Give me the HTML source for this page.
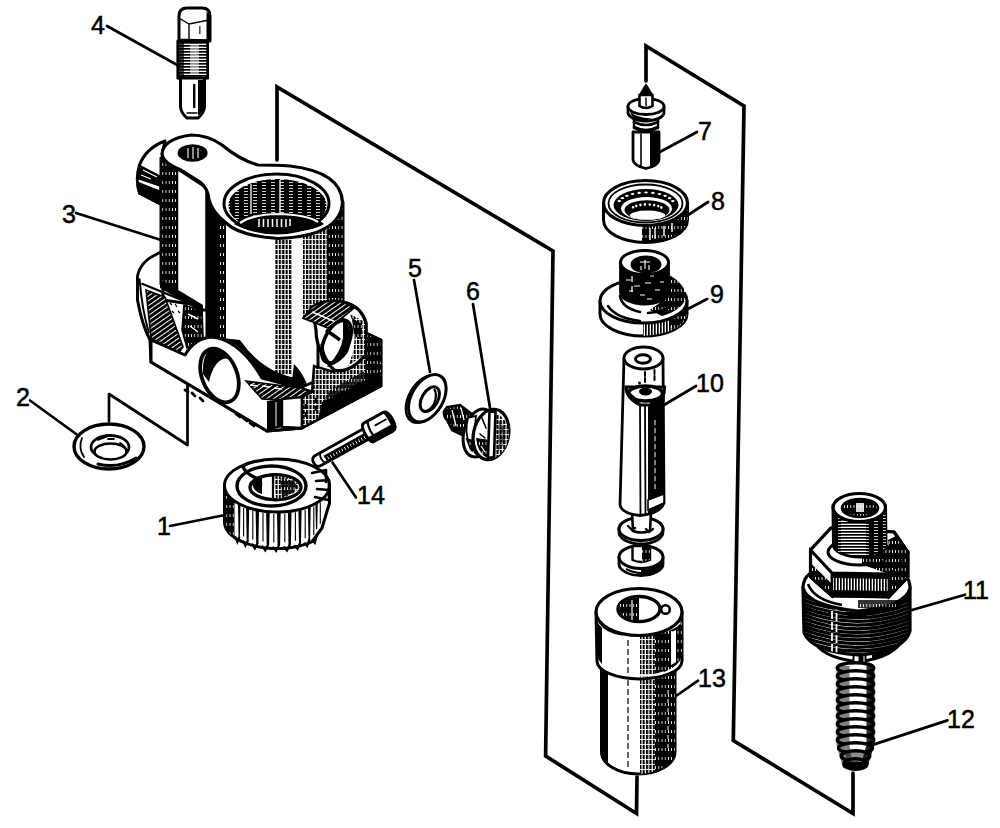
<!DOCTYPE html>
<html><head><meta charset="utf-8"><title>Exploded view</title>
<style>
html,body{margin:0;padding:0;background:#fff;}
svg{display:block;}
text{font-family:"Liberation Sans",sans-serif;font-size:25px;fill:#000;stroke:#000;stroke-width:.55;}
.l{stroke:#000;stroke-width:2.7;fill:none;stroke-linecap:round;stroke-linejoin:round;}
.b{stroke:#000;stroke-width:3.7;fill:none;stroke-linecap:round;stroke-linejoin:miter;}
.o{stroke:#000;stroke-width:3;fill:#fff;stroke-linejoin:round;stroke-linecap:round;}
.t{stroke:#000;stroke-width:1.4;fill:none;stroke-linecap:round;}
.k{fill:#000;stroke:#000;stroke-width:1.5;stroke-linejoin:round;}
</style></head>
<body>
<svg width="1000" height="828" viewBox="0 0 1000 828">
<defs>
<pattern id="hv" width="3" height="6" patternUnits="userSpaceOnUse"><rect width="3" height="6" fill="#fff"/><rect x="0" y="0" width="1.7" height="6" fill="#000"/></pattern>
<pattern id="hvd" width="3.2" height="9" patternUnits="userSpaceOnUse"><rect width="3.2" height="9" fill="#000"/><rect x="2.4" y="1" width="0.8" height="3" fill="#fff"/></pattern>
<pattern id="hh" width="6" height="3" patternUnits="userSpaceOnUse"><rect width="6" height="3" fill="#fff"/><rect x="0" y="0" width="6" height="1.7" fill="#000"/></pattern>
<pattern id="hhd" width="9" height="3" patternUnits="userSpaceOnUse"><rect width="9" height="3" fill="#000"/><rect x="1" y="2.2" width="4" height="0.8" fill="#fff"/></pattern>
<pattern id="dots" width="3.4" height="5" patternUnits="userSpaceOnUse"><rect width="3.4" height="5" fill="#fff"/><rect x="0" y="0" width="2.2" height="4.1" fill="#000"/></pattern>
<pattern id="dotl" width="5" height="5" patternUnits="userSpaceOnUse"><rect width="5" height="5" fill="#fff"/><rect x="0" y="0" width="1.8" height="2.8" fill="#000"/></pattern>
<pattern id="hd" width="4" height="4" patternUnits="userSpaceOnUse" patternTransform="rotate(-35)"><rect width="4" height="4" fill="#fff"/><rect width="4" height="3" fill="#000"/></pattern>
</defs>
<rect width="1000" height="828" fill="#fff"/>

<!-- BRACKETS -->
<g id="brackets">
<polyline class="b" points="277,160 277,87 553,251 545.6,756 636.5,813.5 637,777"/>
<polyline class="b" points="646,81 646,46 744,106 733.3,740.5 853,813.5 853,773"/>
<polyline class="l" points="109,421 109,394 187.5,445 187.5,382"/>
</g>

<!-- PARTS -->
<g id="p4">
<!-- head -->
<path class="o" d="M179,40 L179,16 Q179,8 187,8 L202,8 Q210,8 210,16 L210,41 Z"/>
<path class="t" d="M179,18 L189,24 L209,20 M189,24 L189,41"/>
<rect x="199" y="26" width="1.600" height="8" fill="#000" opacity=".7"/><path d="M206.500,12 Q210,13 210,18 L210,41 L206.500,41 Z" fill="#000"/>
<!-- thread -->
<rect class="o" x="178" y="41" width="29.5" height="37"/>
<rect x="178" y="41" width="29.5" height="37" fill="url(#hh)"/>
<rect x="190" y="44" width="9" height="30" fill="#fff" opacity=".55"/>
<rect x="178" y="41" width="6" height="37" fill="#000" opacity=".7"/>
<rect x="178" y="41" width="29.5" height="37" fill="none" stroke="#000" stroke-width="2.4"/>
<!-- shank -->
<path class="o" d="M180.500,78 L180.500,107 Q181,113 187,118 L198,118 Q204,113 204.500,107 L204.500,78 Z"/>
<rect x="193" y="84" width="2.4" height="24" fill="#000"/>
<path d="M198,80 L204.500,80 L204.500,106 Q204,111 199,115 L198,115 Z" fill="#000"/>
<path class="t" d="M187,113 L197,113"/>
</g>
<g id="p3">
<!-- left ear behind lug -->
<path class="o" d="M165,141 Q146,148 139.500,165 Q135,180 139.500,193 L160,204 L163,150 Z"/>
<path class="k" d="M140.400,166 L161,176.600 L161,186.200 L137.200,178.200 Z"/><path d="M143,170 l14,7 M141,175 l10,4" stroke="#fff" stroke-width="1.100"/>
<path class="k" d="M137.200,182.200 L161,191.800 L161,204.700 L138.800,193.500 Z"/>
<!-- base flange -->
<path class="o" d="M163,251 L156,254.500 Q140,262 137.500,276 L137.500,300 Q142,325 150,340 L151,362 L267,431 L302,428 L381,386 L381,340 L366,333 L366,322 Q360,305 342,302 Q325,300 312,307 L300,320 L163,300 Z"/>
<!-- left lug cylinder -->
<path class="o" d="M161,158 L161,284 L203,310 L207,310 L207,188 Z"/>
<path d="M161,158 L161,284 L177.500,293 L177.500,166 Z" fill="url(#hvd)" stroke="#000" stroke-width="1.5"/>
<!-- main cylinder -->
<path class="o" d="M207,190 L207,338 Q240,340 262,378 L300,388 L318,380 L318,330 Q320,312 343,305 L343,202 Z"/>
<path d="M207,190 L207,338 L218,340 L218,215 Z" fill="#000"/>
<path d="M218,215 L218,340 L226,342 L226,224 Z" fill="url(#hvd)"/>
<rect x="275" y="236" width="17" height="138" fill="url(#dots)"/>
<path d="M303,236 L303,318 L312,307 Q325,299 343,302 L343,210 L330,228 Z" fill="url(#dots)"/>
<path d="M327,230 L327,312 L343,305 L343,205 Z" fill="url(#hvd)"/>
<!-- left dark hatched pocket -->
<path d="M139.500,278.500 Q142,310 149,333" fill="none" stroke="#000" stroke-width="2"/>
<path d="M141.500,283.500 L200,307.500" fill="none" stroke="#000" stroke-width="2.400"/>
<path d="M146,290 L165,297 L183,347 L178,354 L151,338 Z" fill="url(#hd)" stroke="#000" stroke-width="1.600"/>
<path d="M184,305 L202,311 L203,337 L187,348 L182,330 Z" fill="url(#hvd)" stroke="#000" stroke-width="1.600"/>
<path d="M188,314 l10,5 M190,326 l8,6" stroke="#fff" stroke-width="1.400" fill="none"/>
<path d="M160,279 L203,305 L203,313 L160,288 Z" fill="#000"/>
<path d="M170,303 l2,2 m3,-1 l2,3 m-5,4 l2,2 m4,-2 l2,2" stroke="#000" stroke-width="1.200" fill="none"/>
<!-- front boss -->
<path class="o" d="M185,355 Q195,338 212,337 Q240,340 262,378 L300,388 L312,392 L302,397 L302,428 L267,431 L151,362 L151,340 Z"/>
<path d="M222,338 Q246,346 262,378 L300,388 L296,378 Q262,372 240,340 Z" fill="#000"/>
<ellipse cx="219.500" cy="375.500" rx="17.500" ry="28" transform="rotate(-22 219.500 375.500)" fill="#fff" stroke="#000" stroke-width="3.8"/>
<path d="M203,374 Q202,354 212,348 Q224,349 231,359 Q215,355 209,382 Z" fill="#000"/>
<!-- front lower face details -->
<path d="M246,381 L300,388 L312,392 L309,398 L283,400 L262,399 Z" fill="url(#hd)" stroke="#000" stroke-width="1.5"/>
<path d="M250,385 l8,1 m4,0 l8,1 m4,1 l8,1" stroke="#fff" stroke-width="1.4" fill="none"/>
<path d="M267,401 L282,399 L282,427 L267,431 Z" fill="#000"/>
<path d="M276,402 v24" stroke="#fff" stroke-width="1"/>
<path d="M282,399 L302,397 L302,428 L282,427 Z" fill="#fff" stroke="#000" stroke-width="2.4"/>
<path d="M185,390 l3,2 m4,1 l3,3 m5,2 l3,3 M236,414 l4,3 m3,1 l4,3 m3,2 l4,3" class="t" style="stroke-width:2.8"/>
<!-- right side face (dotted) -->
<path d="M302,397 L312,392 L314,366 L334,372 L366,352 L366,333 L381,340 L381,386 L302,428 Z" fill="url(#dots)" stroke="#000" stroke-width="2.4"/>
<path d="M366,333 L381,340 L381,386 L366,394 Z" fill="url(#hvd)" stroke="#000" stroke-width="1.6"/>
<path d="M322,402 L381,371 L381,386 L318,419.500 Z" fill="#000"/><path d="M330,390 L381,362 L381,372 L322,403 Z" fill="url(#hvd)" opacity=".8"/>
<path d="M306,404 v14 M316,398 v14" stroke="#000" stroke-width="2.8" stroke-dasharray="5 3"/>
<!-- shadow between cylinder and boss -->
<path d="M294,364 Q302,372 307,384 L300,388 L292,380 Z" fill="#000"/>
<!-- right boss -->
<path class="o" d="M312,307 Q325,299 343,302 Q362,306 366,324 L366,354 Q350,374 334,370 Q316,352 316,330 Z" style="stroke-width:3.2"/>
<path d="M303,318 L312,307 Q325,299 343,302 L354,308 L342,318 L328,328 Z" fill="url(#hd)" stroke="#000" stroke-width="1.8"/>
<path d="M312,312 L336,322" stroke="#fff" stroke-width="1.6"/>
<ellipse cx="336.500" cy="341.500" rx="12" ry="23" transform="rotate(26 336.500 341.500)" fill="#fff" stroke="#000" stroke-width="3.6"/>
<path d="M326,330 L340,340" fill="none" stroke="#000" stroke-width="3.4"/><path d="M344,320 Q354,334 347,352 Q340,362 330,365 Q342,352 344,338 Z" fill="#000" stroke="#000" stroke-width="2"/><path d="M322,344 Q322,356 330,364" fill="none" stroke="#000" stroke-width="3"/>
<path d="M350,314 L365,322 L365,354 L348,366 Q360,340 350,314 Z" fill="url(#dots)"/>
<path d="M352,318 L362,324 L362,340 L354,336 Z" fill="url(#hvd)"/>
<!-- top face -->
<path class="o" d="M162,154 Q163,139 191,135 Q208,135 222,145 Q240,160 258,165 Q276,165 290,166 Q341,172 342.500,202 Q341,236 278,238.500 Q240,236 226,223 Q212,212 209,200 Q208,188 200,182 L181,170 Q163,163 162,154 Z" style="stroke-width:3.2"/>
<!-- lug hole -->
<ellipse cx="192.600" cy="153" rx="15" ry="8.800" fill="#000"/>
<path d="M188,148 v10 M193,147 v12 M198,148 v10" stroke="#fff" stroke-width="1.1"/>
<!-- bore -->
<ellipse cx="276.500" cy="203.500" rx="52.500" ry="29.500" fill="#fff" stroke="#000" stroke-width="3"/>
<ellipse cx="277.500" cy="205.500" rx="49" ry="26.500" fill="url(#hhd)"/>
<path d="M251,184 v30 M280,180 v40" stroke="#fff" stroke-width="1.300"/>
<path d="M234,224 Q246,214 278,213 Q312,214 324,224 Q312,232 278,232.500 Q246,232 234,224 Z" fill="#000"/>
<path d="M240,223 Q252,214.500 278,214 Q306,214.500 318,222" fill="none" stroke="#fff" stroke-width="2.200"/>
<path d="M259,219 v8 M263.500,219 v8 M268,219 v8 M272.500,219 v8 M277,219 v8 M281.500,219 v8 M286,219 v8 M290,219 v7" stroke="#fff" stroke-width="1.500"/>
</g>
<g id="p2">
<ellipse class="o" cx="109" cy="446.500" rx="35" ry="22.500" style="stroke-width:3.4"/>
<path class="t" d="M82,438 Q78,448 84,457" style="stroke-width:1.8"/>
<path class="t" d="M98,464 Q118,469 136,458" style="stroke-width:3"/>
<ellipse cx="110" cy="447" rx="19" ry="11.500" fill="#fff" stroke="#000" stroke-width="2.8"/>
<ellipse cx="110.500" cy="451.500" rx="16" ry="8" fill="#fff" stroke="#000" stroke-width="2.6"/>
<path class="t" d="M98,440 l8,-3 m2,2 l6,0 M120,443 q6,3 6,8" style="stroke-width:1.8"/>
</g>
<g id="p1">
<path class="o" d="M224.5,485.5 L224.5,522.0 L224.8,524.8 L225.6,527.5 L227.1,530.2 L229.0,532.8 L231.5,535.2 L234.5,537.6 L238.0,539.7 L241.9,541.7 L246.1,543.4 L250.8,544.9 L255.6,546.2 L260.8,547.2 L266.1,547.9 L271.5,548.4 L277.0,548.5 L282.5,548.4 L287.9,547.9 L293.2,547.2 L298.4,546.2 L303.2,544.9 L307.9,543.4 L312.1,541.7 L322.0,528.0 L329.5,503.0 L329.5,485.5 Z" style="stroke-width:3"/>
<path d="M224.5,485.5 L224.8,488.3 L225.6,491.0 L227.1,493.7 L229.0,496.3 L231.5,498.8 L234.5,501.1 L234.5,537.6 L231.5,535.2 L229.0,532.8 L227.1,530.2 L225.6,527.5 L224.8,524.8 L224.5,522.0 Z" fill="url(#hvd)"/>
<path d="M238.0,503.2 L240.5,504.6 L239.9,538.1 L238.6,536.7 Z" fill="#000"/>
<path d="M243.6,507.9 v28.5" stroke="#000" stroke-width="1.1" fill="none"/>
<path d="M246.1,506.9 L249.2,508.0 L248.6,541.5 L246.7,540.4 Z" fill="#000"/>
<path d="M252.8,511.0 v28.5" stroke="#000" stroke-width="1.1" fill="none"/>
<path d="M255.6,509.7 L259.0,510.4 L258.4,543.9 L256.2,543.2 Z" fill="#000"/>
<path d="M263.0,513.0 v28.5" stroke="#000" stroke-width="1.1" fill="none"/>
<path d="M266.1,511.4 L269.7,511.7 L269.1,545.2 L266.7,544.9 Z" fill="#000"/>
<path d="M273.8,514.0 v28.5" stroke="#000" stroke-width="1.1" fill="none"/>
<path d="M277.0,512.0 L280.7,511.9 L280.1,545.4 L277.6,545.5 Z" fill="#000"/>
<path d="M284.8,513.7 v28.5" stroke="#000" stroke-width="1.1" fill="none"/>
<path d="M287.9,511.4 L291.5,511.0 L290.9,544.5 L288.5,544.9 Z" fill="#000"/>
<path d="M295.4,512.3 v28.5" stroke="#000" stroke-width="1.1" fill="none"/>
<path d="M298.4,509.7 L301.6,508.9 L301.0,542.4 L299.0,543.2 Z" fill="#000"/>
<path d="M305.2,509.8 v28.5" stroke="#000" stroke-width="1.1" fill="none"/>
<path d="M307.9,506.9 L310.7,505.8 L310.1,539.3 L308.5,540.4 Z" fill="#000"/>
<path d="M313.8,506.4 v28.5" stroke="#000" stroke-width="1.1" fill="none"/>
<path d="M315.4,503.6 L317.8,502.2 L317.2,528.4 L316.0,529.8 Z" fill="#000"/>
<path d="M320.3,502.5 v21.2" stroke="#000" stroke-width="1.1" fill="none"/>
<path class="t" d="M235.6,537.3 L237.4,541.9 L239.2,537.4 M243.3,541.3 L245.4,545.7 L247.6,541.0 M252.4,544.4 L254.8,548.5 L257.3,543.6 M262.5,546.5 L265.2,550.3 L267.9,545.1 M273.3,547.4 L276.1,551.0 L278.8,545.5 M284.3,547.2 L287.0,550.5 L289.7,544.7 M295.0,545.9 L297.5,548.9 L300.0,542.8 M304.8,543.5 L307.1,546.2 L309.3,539.9 M312.8,540.4 L314.8,542.9 L316.6,536.4" style="stroke-width:2.2"/>
<ellipse class="o" cx="277" cy="485.5" rx="52.5" ry="26.5" style="stroke-width:3"/>
<path class="t" d="M312,473 l14,-3 M316,481 l13,-1 M317,489 l12,1 M315,497 l13,3 M326,470 v12 M329,480 v20" style="stroke-width:2.6"/>
<ellipse cx="271.5" cy="486" rx="34.5" ry="20" fill="#fff" stroke="#000" stroke-width="3.4"/>
<ellipse cx="275.5" cy="487.2" rx="25.5" ry="12.5" fill="#fff" stroke="#000" stroke-width="3.4"/>
<path d="M274,476 Q294,476 299,486 Q296,496 276,499 Z" fill="url(#dots)"/>
<path d="M280,478 Q294,479 297,486 Q294,494 282,497 Z" fill="url(#hvd)" opacity=".85"/>
<path d="M273,476 v22" stroke="#000" stroke-width="2.2"/>
<path d="M252,484 Q254,478 262,476 L262,494 Q254,492 252,484 Z" fill="#000"/>
<path class="t" d="M243,467 Q246,474 258,479 Q262,482 260,488" style="stroke-width:3.2"/>
<path class="t" d="M243,467 Q250,461 262,461" style="stroke-width:2.2"/>
</g>
<g id="p14" transform="translate(319,460) rotate(-29)">
<!-- shaft -->
<path class="o" d="M-1,-5.800 L56,-5.800 L56,5.800 L-1,5.800 Q-6,5.800 -6,0 Q-6,-5.800 -1,-5.800 Z" style="stroke-width:2.8"/>
<rect x="6" y="-1.500" width="48" height="7" fill="url(#hvd)"/>
<path class="t" d="M4,-5 Q1,0 4,5" style="stroke-width:1.800"/>
<!-- head -->
<path class="o" d="M57,-10.500 L79,-10.500 Q84,-10.500 84,0 Q84,10.500 79,10.500 L57,10.500 Q53,10.500 53,0 Q53,-10.500 57,-10.500 Z" style="stroke-width:3"/>
<path d="M54,4 L82,4 Q83,8 79,10.500 L57,10.500 Q54,9 54,4 Z" fill="#000"/>
<path d="M79,-10 Q84,-10 84,0 Q84,10 79,10.500 Q81,0 79,-10 Z" fill="#000"/>
<path class="t" d="M61,-10 Q57,0 61,10" style="stroke-width:2.200"/>
<path class="t" d="M66,-3 L78,-3" style="stroke-width:1.800"/>
</g>
<g id="p5">
<ellipse cx="424.700" cy="399" rx="15.800" ry="25.800" transform="rotate(30 424.700 399)" fill="#fff" stroke="#000" stroke-width="2.600"/>
<ellipse cx="427.300" cy="398.200" rx="15.800" ry="25.800" transform="rotate(30 427.300 398.200)" fill="#fff" stroke="#000" stroke-width="3"/>
<ellipse cx="429.800" cy="399.200" rx="8" ry="13.500" transform="rotate(30 429.800 399.200)" fill="#fff" stroke="#000" stroke-width="3"/>
<path d="M434,389 Q438,394 434,404 Q430,410 426,411" fill="none" stroke="#000" stroke-width="2.200"/>
</g>
<g id="p6">
<!-- threaded shank -->
<path d="M447,407 Q443,412 446,418 L452,430 L468,438 L472,414 L460,405 Z" fill="url(#hvd)" stroke="#000" stroke-width="2.4"/>
<path d="M446,409 Q442,413 446,419" class="t" style="stroke-width:2.8"/>
<path d="M452,410 l4,16 M461,408 l3,12" stroke="#fff" stroke-width="1.3" fill="none"/>
<!-- head back rim -->
<ellipse cx="479" cy="433" rx="15" ry="24.500" transform="rotate(16 479 433)" fill="#fff" stroke="#000" stroke-width="3"/>
<path d="M468,418 Q464,432 470,446 L478,454 L474,436 L476,416 Z" fill="#fff" stroke="#000" stroke-width="1.8"/>
<path d="M465.500,438 L470,450 L480,458 L489,460 L489,447 L478,441 Z" fill="url(#hvd)"/>
<!-- head face -->
<ellipse cx="491" cy="434.500" rx="17.500" ry="25.500" transform="rotate(12 491 434.500)" fill="#fff" stroke="#000" stroke-width="3.2"/>
<path d="M476,438 Q477,452 488,459 L490,440 Z" fill="url(#hvd)"/><path d="M481,446 l4,6" stroke="#fff" stroke-width="1.200"/>
<path d="M496,413 Q509,420 509,436 Q507,452 495,458 Z" fill="url(#dots)"/>
<path d="M499,420 Q507,428 505,442 L498,452 Z" fill="url(#hvd)" opacity=".6"/>
<path d="M489.500,412 L495.500,411.500 L494,457 L488,458 Z" fill="#fff" stroke="#000" stroke-width="2.6"/>
<path d="M482,418 l4,10 m-6,6 l5,4" class="t" style="stroke-width:1.6"/>
</g>
<g id="p7">
<!-- body -->
<path class="o" d="M633,132 L633,160 Q634,166 646,168.500 Q658,166 659,160 L659,132 Z" style="stroke-width:2.8"/>
<path d="M650,132 L650,168 Q658,166 659,160 L659,132 Z" fill="#000"/>
<path class="t" d="M641,134 L641,166" style="stroke-width:1.6"/>
<!-- rings -->
<path class="o" d="M634,117 L634,128 Q646,134 658,128 L658,117 Z" style="stroke-width:2.4"/>
<path class="t" d="M634,122 Q646,128 658,122" style="stroke-width:2.6"/>
<path class="t" d="M634,127 Q646,133 658,127" style="stroke-width:2.6"/>
<!-- flange -->
<path class="o" d="M628,106 L628,113 Q630,120 646,121 Q662,120 664,113 L664,106 Z" style="stroke-width:2.8"/>
<ellipse class="o" cx="646" cy="106.500" rx="18" ry="8" style="stroke-width:2.8"/>
<path d="M630,112 Q640,119 652,118 L646,121 Q632,120 630,112 Z" fill="#000"/>
<!-- small cylinder -->
<path class="o" d="M639.500,95 L639.500,106 Q646,110 652.500,106 L652.500,95 Z" style="stroke-width:2.6"/>
<path class="t" d="M646,98 v8" style="stroke-width:1.4"/>
<!-- tip -->
<path class="k" d="M646,84.500 L652.500,95 L639.500,95 Z"/>
</g>
<g id="p8">
<path class="o" d="M603.500,203 L603.500,220 A42,22.500 0 0 0 687.500,220 L687.500,203 Z" style="stroke-width:3"/>
<path d="M642,242.500 L642,226 Q670,224 687.500,210 L687.500,220 Q684,240 642,242.500 Z" fill="url(#hvd)"/>
<path d="M650,228 v12 M655,228 v11 M664,226 v10 M672,223 v9" stroke="#fff" stroke-width="1.400"/>
<ellipse class="o" cx="645.500" cy="203" rx="42" ry="22.500" style="stroke-width:3.200"/>
<ellipse cx="645.500" cy="203.500" rx="37" ry="19" fill="none" stroke="#000" stroke-width="1.800"/>
<ellipse cx="646" cy="205" rx="32.500" ry="16" fill="#000"/>
<ellipse cx="619.2" cy="201.1" rx="1.8" ry="1.1" fill="#fff"/>
<ellipse cx="622.4" cy="198.2" rx="1.8" ry="1.1" fill="#fff"/>
<ellipse cx="626.9" cy="195.8" rx="1.8" ry="1.1" fill="#fff"/>
<ellipse cx="632.6" cy="194.0" rx="1.8" ry="1.1" fill="#fff"/>
<ellipse cx="639.1" cy="192.9" rx="1.8" ry="1.1" fill="#fff"/>
<ellipse cx="646.0" cy="192.5" rx="1.8" ry="1.1" fill="#fff"/>
<ellipse cx="652.9" cy="192.9" rx="1.8" ry="1.1" fill="#fff"/>
<ellipse cx="659.4" cy="194.0" rx="1.8" ry="1.1" fill="#fff"/>
<ellipse cx="665.1" cy="195.8" rx="1.8" ry="1.1" fill="#fff"/>
<ellipse cx="669.6" cy="198.2" rx="1.8" ry="1.1" fill="#fff"/>
<ellipse cx="672.8" cy="201.1" rx="1.8" ry="1.1" fill="#fff"/>
<ellipse cx="646.500" cy="208.500" rx="25.500" ry="11.500" fill="#fff"/>
<ellipse cx="647" cy="210" rx="22.500" ry="9.800" fill="#000"/>
<ellipse cx="633.1" cy="207.3" rx="1.2" ry="1.4" fill="#fff"/>
<ellipse cx="636.3" cy="205.9" rx="1.2" ry="1.4" fill="#fff"/>
<ellipse cx="640.4" cy="205.0" rx="1.2" ry="1.4" fill="#fff"/>
<ellipse cx="644.9" cy="204.5" rx="1.2" ry="1.4" fill="#fff"/>
<ellipse cx="649.7" cy="204.6" rx="1.2" ry="1.4" fill="#fff"/>
<ellipse cx="654.2" cy="205.1" rx="1.2" ry="1.4" fill="#fff"/>
<ellipse cx="658.2" cy="206.1" rx="1.2" ry="1.4" fill="#fff"/>
<ellipse cx="661.3" cy="207.5" rx="1.2" ry="1.4" fill="#fff"/>
<ellipse cx="647.500" cy="215.200" rx="17.500" ry="4.600" fill="#fff"/>
</g>
<g id="p9">
<!-- flange -->
<path class="o" d="M600,301 L600,314 A43.500,22 0 0 0 687,314 L687,301 Z" style="stroke-width:3"/>
<path d="M643,336 L643,323 Q672,321 687,306 L687,314 Q684,333 643,336 Z" fill="url(#hv)"/>
<path d="M668,318 Q680,312 687,303 L687,314 Q684,324 672,330 Z" fill="url(#hvd)"/>
<ellipse class="o" cx="643.500" cy="301" rx="43.500" ry="22" style="stroke-width:3"/>
<!-- shadow right of cylinder on flange -->
<path d="M669,275 Q686,284 686,298 Q682,310 662,316 L650,310 L669,296 Z" fill="url(#hvd)"/>
<path class="t" d="M620,296 Q622,308 640,312 M648,313 Q664,312 674,304" style="stroke-width:2.6"/>
<path class="t" d="M608,306 Q616,318 640,321" style="stroke-width:2.4"/>
<!-- cylinder -->
<path d="M620.500,262.500 L620.500,292 A24,12 0 0 0 668.500,292 L668.500,262.500 Z" fill="#000" stroke="#000" stroke-width="2.800"/>
<path d="M626,280 h5 M634,286 h6 M645,283 h6 M655,290 h5 M640,295 h5 M650,276 h4 M629,291 h4 M660,282 h4 M647,299 h5" stroke="#fff" stroke-width="1"/>
<path d="M632,276 v20" stroke="#fff" stroke-width="1.200" stroke-dasharray="6 4"/>
<ellipse class="o" cx="644.500" cy="262.500" rx="24" ry="12" style="stroke-width:3"/>
<ellipse cx="646" cy="264.500" rx="14.500" ry="8" fill="#000" stroke="#000" stroke-width="2"/>
<path d="M640,262 h10 M645,260 v9 M641,266 v4 M649,265 v5" stroke="#fff" stroke-width="1.100"/>
</g>
<g id="p10">
<!-- lower flanges -->
<path class="o" d="M619,557 L619,564 A22,11.500 0 0 0 663,564 L663,557 Z" style="stroke-width:2.8"/>
<path d="M641,575.500 Q660,574 663,564 L663,559 Q656,568 641,569.500 Z" fill="#000"/>
<path d="M626,569 Q634,573 641,573" fill="none" stroke="#000" stroke-width="2"/>
<ellipse class="o" cx="641" cy="557" rx="22" ry="11.500" style="stroke-width:3"/>
<path class="o" d="M632.500,546 L632.500,560 Q641,564 650,560 L650,546 Z" style="stroke-width:2.400"/>
<path d="M642,547 L650,546 L650,560 L642,562 Z" fill="url(#hvd)"/>
<path class="o" d="M619,528 L619,532 A22,12 0 0 0 663,532 L663,528 Z" style="stroke-width:2.8"/>
<ellipse class="o" cx="641" cy="529" rx="22" ry="11.500" style="stroke-width:3"/>
<path class="o" d="M632,512 L633,531 Q641,534 650,531 L651,512 Z" style="stroke-width:2.6"/>
<path class="t" d="M628,526 l4,4 l3,-2 M646,529 l3,3 l4,-3" style="stroke-width:2.4"/>
<!-- body -->
<path class="o" d="M624,358 L620,505 Q622,514 640,515.500 Q660,514 664,503 L663,358 Z" style="stroke-width:2.8"/>
<path d="M650,404 L664,400 L664,503 Q658,512 648,514 L648,404 Z" fill="#000"/>
<path d="M655,420 v70" stroke="#fff" stroke-width="1" stroke-dasharray="5 3"/>
<path class="t" d="M640,404 L640.500,514 M645,404 L645.500,514" style="stroke-width:1.8"/>
<path d="M648,500 L664,494 L664,503 L648,510 Z" fill="#fff" stroke="#000" stroke-width="1.6"/>
<!-- notch -->
<path d="M626,387 Q626,398 640,405 L656,405 Q665,398 664.500,387 Z" fill="#fff" stroke="#000" stroke-width="3"/>
<ellipse cx="645.500" cy="393.500" rx="17" ry="7.500" fill="#fff" stroke="#000" stroke-width="3.600"/>
<path d="M628,391 Q630,402 642,405 L634,396 Z" fill="#000"/>
<path d="M639,391.500 a6.500,4 0 1 0 13,0 a6.500,4 0 1 0 -13,0 Z" fill="#000"/>
<path d="M649,402 Q661,399 664.500,390 L664.500,402 L652,406 Z" fill="#000"/>
<path class="t" d="M645,372 v10 M654.500,370 v10" style="stroke-width:2" stroke-dasharray="4 2"/>
<circle cx="639.500" cy="383" r="1.500" fill="#000"/>
<!-- top -->
<ellipse class="o" cx="643.500" cy="358" rx="19.500" ry="11" style="stroke-width:3"/>
<ellipse cx="643" cy="359" rx="7.500" ry="4.200" fill="#fff" stroke="#000" stroke-width="3"/>
</g>
<g id="p13">
<!-- lower body -->
<path class="o" d="M601.500,660 L601.500,752 A36.750,22 0 0 0 675,752 L675,660 Z" style="stroke-width:3"/>
<path d="M655,672 L655,771 Q674,764 675,752 L675,668 Z" fill="url(#hvd)"/>
<path d="M640,676 L640,774 Q650,773 655,771 L655,672 Z" fill="url(#dots)"/>
<path d="M628,680 v90" stroke="#000" stroke-width="1.2" stroke-dasharray="6 3"/>
<path d="M602,665 L602,754 Q603,760 608,764 L608,670 Z" fill="#000"/>
<path d="M668,690 v60" stroke="#fff" stroke-width="1" stroke-dasharray="4 5"/>
<!-- head -->
<path class="o" d="M596,612 L597,661 A42.500,18 0 0 0 682,661 L682,612 Z" style="stroke-width:3"/>
<path d="M655,634 L655,675 Q680,668 682,655 L682,622 Q674,632 655,634 Z" fill="url(#hvd)"/>
<path d="M640,636 L640,677.500 Q648,677 655,675 L655,634 Z" fill="url(#dots)"/>
<path d="M671,632 L676,630 L676,662 L671,665 Z" fill="#fff"/>
<path d="M597,622 L597,655 Q598,660 602,664 L602,628 Z" fill="#000"/>
<path d="M628,640 v34" stroke="#000" stroke-width="1.2" stroke-dasharray="6 3"/>
<path d="M617,672 Q640,680 664,672" fill="none" stroke="#fff" stroke-width="1.4"/>
<!-- top -->
<ellipse class="o" cx="639" cy="612" rx="43" ry="23.500" style="stroke-width:3.2"/>
<path class="t" d="M600,622 Q606,632 622,634" style="stroke-width:2.8"/>
<ellipse cx="639" cy="609" rx="21" ry="12.500" fill="#fff" stroke="#000" stroke-width="3.4"/>
<path d="M620,604 Q626,598 639,597.500 L639,621 Q626,620 620,612 Z" fill="url(#hvd)"/>
<path d="M632,600 v20" stroke="#fff" stroke-width="1.2"/>
<circle cx="665.500" cy="609.500" r="4.300" fill="#fff" stroke="#000" stroke-width="2.6"/>
</g>
<g id="p11">
<defs><clipPath id="c11"><path d="M803,588 L804,633 Q812,652 858,655 Q904,652 910,631 L910,588 Z"/></clipPath></defs>
<path class="o" d="M814,640 Q820,657 858,662 Q896,657 903,638 Z" style="stroke-width:3"/>
<path d="M872,660 Q896,654 902,640 L893,642 Q888,652 872,655 Z" fill="#000"/>
<rect x="853.500" y="654" width="12" height="13" fill="#fff" stroke="#000" stroke-width="2"/>
<rect x="858.500" y="654" width="5" height="13" fill="#000"/>
<path d="M803,588 L804,633 Q812,652 858,655 Q904,652 910,631 L910,588 Z" fill="#fff" stroke="#000" stroke-width="3.2"/>
<g clip-path="url(#c11)" fill="none" stroke="#000" stroke-width="3.3">
<path d="M800,584.0 Q857,607.0 914,584.0"/>
<path d="M800,587.7 Q857,610.7 914,587.7"/>
<path d="M800,591.4 Q857,614.4 914,591.4"/>
<path d="M800,595.1 Q857,618.1 914,595.1"/>
<path d="M800,598.8 Q857,621.8 914,598.8"/>
<path d="M800,602.5 Q857,625.5 914,602.5"/>
<path d="M800,606.2 Q857,629.2 914,606.2"/>
<path d="M800,609.9 Q857,632.9 914,609.9"/>
<path d="M800,613.6 Q857,636.6 914,613.6"/>
<path d="M800,617.3 Q857,640.3 914,617.3"/>
<path d="M800,621.0 Q857,644.0 914,621.0"/>
<path d="M800,624.7 Q857,647.7 914,624.7"/>
<path d="M800,628.4 Q857,651.4 914,628.4"/>
<path d="M800,632.1 Q857,655.1 914,632.1"/>
<path d="M800,635.8 Q857,658.8 914,635.8"/>
<path d="M800,639.5 Q857,662.5 914,639.5"/>
<path d="M800,643.2 Q857,666.2 914,643.2"/>
<path d="M800,646.9 Q857,669.9 914,646.9"/>
<path d="M800,650.6 Q857,673.6 914,650.6"/>
<path d="M800,654.3 Q857,677.3 914,654.3"/>
<path d="M800,658.0 Q857,681.0 914,658.0"/>
</g>
<g clip-path="url(#c11)"><path d="M870,600 L914,590 L914,660 L870,660 Z" fill="#000" opacity=".45"/><path d="M800,585 L812,590 L812,650 L800,640 Z" fill="#000" opacity=".5"/><path d="M832,600 v52 M836.5,602 v52" stroke="#fff" stroke-width="1.8" stroke-dasharray="8 3"/></g>
<path class="o" d="M803,588 Q803,570 830,566 L890,566 Q910,572 910,588 Q906,606 858,611 Q808,606 803,588 Z" style="stroke-width:3.2"/>
<path d="M858,611 Q906,606 910,588 L910,595 Q904,612 858,617 Q852,617 846,616 Z" fill="#000"/>
<path d="M858,600 h40 v8 h-40 Z" fill="url(#hvd)" opacity=".8"/>
<path d="M808,584 Q814,600 842,605" fill="none" stroke="#000" stroke-width="2.6"/>
<path class="o" d="M810.500,550 L810.500,577 L832,596 L889,597 L908,577 L908,552.500 L894,532 L831,528 Z" style="stroke-width:3.2"/>
<path d="M810.500,563 L832,584 L832,596 L810.500,577 Z" fill="url(#hvd)"/>
<path d="M810.500,550 L832,573 L832,596 L810.500,577 Z" fill="none" stroke="#000" stroke-width="2.4"/>
<path d="M832,573 L832,596 L889,597 L889,574 Z" fill="url(#hv)" stroke="#000" stroke-width="2.4"/>
<path d="M832,573 L889,574 L889,579 L832,578 Z" fill="#000"/>
<path d="M832,590 L889,591 L889,597 L832,596 Z" fill="#000"/>
<path d="M889,574 L889,597 L908,577 L908,552.500 Z" fill="url(#hvd)" stroke="#000" stroke-width="2.4"/>
<path class="o" d="M810.500,550 L831,528 L894,532 L908,552.500 L889,574 L832,573 Z" style="stroke-width:3.2"/>
<path d="M866,566 L889,574 L908,552.500 L896,536 L888,540 L890,556 Z" fill="url(#hvd)"/>
<ellipse cx="859" cy="552" rx="31" ry="13" fill="#fff" stroke="#000" stroke-width="3"/>
<path d="M862,565 Q888,563 890,552 L890,546 L876,542 L862,552 Z" fill="url(#hvd)"/>
<path d="M833,506 L833.500,545 A26.200,12 0 0 0 886,545 L885.500,506 Z" fill="url(#hh)" stroke="#000" stroke-width="3"/>
<path d="M866,518 L866,557 Q885,553 886,545 L885.500,506 Z" fill="url(#hhd)"/>
<path d="M833.500,510 L833.500,545 Q835,551 841,554 L841,516 Z" fill="url(#hhd)"/>
<ellipse class="o" cx="859.300" cy="507.500" rx="26.200" ry="14" style="stroke-width:3.2"/>
<ellipse cx="860" cy="508" rx="18" ry="9" fill="url(#hvd)" stroke="#000" stroke-width="2.6"/>
<path d="M856,503 h8 v9 h-8 Z" fill="#fff" opacity=".85"/>
</g>
<g id="p12">
<ellipse cx="855.5" cy="668.0" rx="18.2" ry="5.2" fill="#fff" stroke="#000" stroke-width="3.6"/>
<ellipse cx="855.5" cy="676.0" rx="18.2" ry="5.2" fill="#fff" stroke="#000" stroke-width="3.6"/>
<ellipse cx="855.5" cy="684.0" rx="18.2" ry="5.2" fill="#fff" stroke="#000" stroke-width="3.6"/>
<ellipse cx="855.5" cy="692.0" rx="18.2" ry="5.2" fill="#fff" stroke="#000" stroke-width="3.6"/>
<ellipse cx="855.5" cy="700.0" rx="18.2" ry="5.2" fill="#fff" stroke="#000" stroke-width="3.6"/>
<ellipse cx="855.5" cy="708.0" rx="18.2" ry="5.2" fill="#fff" stroke="#000" stroke-width="3.6"/>
<ellipse cx="855.5" cy="716.0" rx="18.2" ry="5.2" fill="#fff" stroke="#000" stroke-width="3.6"/>
<ellipse cx="855.5" cy="724.0" rx="18.2" ry="5.2" fill="#fff" stroke="#000" stroke-width="3.6"/>
<ellipse cx="855.5" cy="732.0" rx="18.2" ry="5.2" fill="#fff" stroke="#000" stroke-width="3.6"/>
<ellipse cx="855.5" cy="740.0" rx="18.2" ry="5.2" fill="#fff" stroke="#000" stroke-width="3.6"/>
<ellipse cx="855.5" cy="748.0" rx="16.9" ry="5.2" fill="#fff" stroke="#000" stroke-width="3.6"/>
<ellipse cx="855.5" cy="756.0" rx="14.2" ry="5.2" fill="#fff" stroke="#000" stroke-width="3.6"/>
<ellipse cx="855.5" cy="764.0" rx="11.5" ry="5.2" fill="#fff" stroke="#000" stroke-width="3.6"/>
<ellipse cx="855.5" cy="765.5" rx="10" ry="3" fill="#000" stroke="#000" stroke-width="2"/>
<path d="M836.500,666 L836.500,745 L843,768 L853,768 L849.500,745 L849.500,666 Z" fill="#000" opacity=".5"/>
<path d="M874.500,666 L874.500,745 L867,768 L860,768 L866.500,745 L866.500,666 Z" fill="#000" opacity=".85"/>
<path d="M845,752 L866,752 L863,768 L848,768 Z" fill="#000" opacity=".45"/>
</g>

<!-- LEADERS -->
<g id="leaders">
<line class="l" x1="107" y1="26" x2="179" y2="66"/>
<line class="l" x1="76" y1="213" x2="161" y2="240"/>
<line class="l" x1="30" y1="400.5" x2="77.5" y2="435"/>
<line class="l" x1="170" y1="526" x2="225" y2="515"/>
<line class="l" x1="356" y1="497.5" x2="332.5" y2="462.5"/>
<line class="l" x1="414" y1="280" x2="430" y2="372"/>
<line class="l" x1="473" y1="304" x2="490" y2="408"/>
<line class="l" x1="697" y1="132" x2="658" y2="153"/>
<line class="l" x1="708" y1="202" x2="688" y2="215"/>
<line class="l" x1="707" y1="299" x2="686" y2="310"/>
<line class="l" x1="696" y1="386" x2="664" y2="405"/>
<line class="l" x1="698" y1="680.7" x2="676" y2="696"/>
<line class="l" x1="965" y1="594.7" x2="912" y2="610"/>
<line class="l" x1="947.5" y1="720.4" x2="874" y2="744.4"/>
</g>

<!-- LABELS -->
<g id="labels">
<text x="91" y="34">4</text>
<text x="62" y="222.5">3</text>
<text x="16" y="406">2</text>
<text x="157" y="535">1</text>
<text x="357" y="504">14</text>
<text x="408" y="277">5</text>
<text x="466" y="300">6</text>
<text x="698" y="140">7</text>
<text x="711" y="210">8</text>
<text x="710" y="303">9</text>
<text x="696" y="392">10</text>
<text x="698" y="687">13</text>
<text x="963" y="599">11</text>
<text x="947" y="727.5">12</text>
</g>
</svg>
</body></html>
